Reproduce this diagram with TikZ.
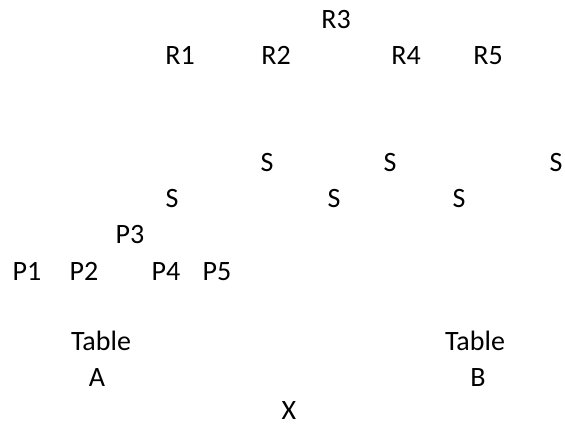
\documentclass[tikz,border=0pt]{standalone}
\usepackage{fontspec}
\setmainfont{Carlito}
\begin{document}
\begin{tikzpicture}[x=1pt,y=1pt,
  lbl/.style={anchor=base,inner sep=0pt,outer sep=0pt,font=\fontsize{28}{32}\selectfont}]
\fill[white] (0,0) rectangle (565,427);
\useasboundingbox (0,0) rectangle (565,427);
% R row
\node[lbl] (r3) at (336,427-29) {R3};
\node[lbl] (r1) at (180,427-65) {R1};
\node[lbl] (r2) at (276,427-65) {R2};
\node[lbl] (r4) at (406,427-65) {R4};
\node[lbl] (r5) at (488,427-65) {R5};
% S rows
\node[lbl] (s1) at (267,427-172) {S};
\node[lbl] (s2) at (390,427-172) {S};
\node[lbl] (s3) at (556,427-172) {S};
\node[lbl] (s4) at (172,427-208) {S};
\node[lbl] (s5) at (334,427-208) {S};
\node[lbl] (s6) at (459,427-208) {S};
% P rows
\node[lbl] (p3) at (130,427-244) {P3};
\node[lbl] (p1) at (27,427-281) {P1};
\node[lbl] (p2) at (84,427-281) {P2};
\node[lbl] (p4) at (166,427-281) {P4};
\node[lbl] (p5) at (217,427-281) {P5};
% Tables
\node[lbl] (ta) at (101,427-351) {Table};
\node[lbl] (a) at (97,427-387) {A};
\node[lbl] (tb) at (475,427-351) {Table};
\node[lbl] (b) at (478,427-387) {B};
\node[lbl] (x) at (289,427-420) {X};
\end{tikzpicture}
\end{document}
